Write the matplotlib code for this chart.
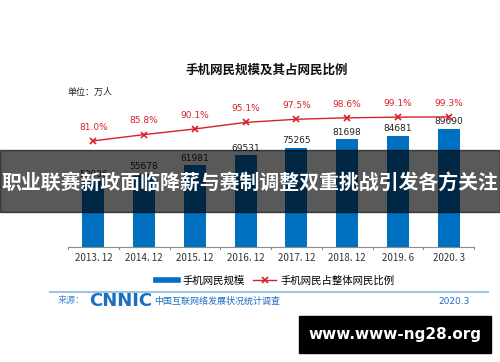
import matplotlib
matplotlib.use('Agg')
import matplotlib.pyplot as plt
from matplotlib.lines import Line2D
from matplotlib.patches import Rectangle

plt.rcParams['font.family'] = ['Noto Sans CJK SC', 'DejaVu Sans']

periods = ['2013. 12', '2014. 12', '2015. 12', '2016. 12', '2017. 12', '2018. 12', '2019. 6', '2020. 3']
users = [50006, 55678, 61981, 69531, 75265, 81698, 84681, 89690]
share = [81.0, 85.8, 90.1, 95.1, 97.5, 98.6, 99.1, 99.3]

blue = '#0070C0'
red = '#D7202A'

fig = plt.figure(figsize=(5, 3.62), dpi=100)
W, H = 500, 362

def fx(px):
    return px / W

def fy(py):
    return 1 - py / H

ax = fig.add_axes([fx(68), fy(247), fx(474) - fx(68), fy(100) - fy(247)])
ax.patch.set_alpha(0)
x = list(range(len(periods)))
ax.bar(x, users, width=0.43, color=blue, zorder=2)
ax.set_xlim(-0.5, 7.5)
ax.set_ylim(0, 111700)
for i, v in enumerate(users):
    ax.text(i, v + 2000, str(v), ha='center', va='bottom', fontsize=6.5, color='#222222',
            family=['DejaVu Sans'])
for s in ['top', 'right', 'left']:
    ax.spines[s].set_visible(False)
ax.spines['bottom'].set_color('#8c8c8c')
ax.set_yticks([])
ax.set_xticks(x)
ax.set_xticklabels(periods, fontsize=7, color='#333333')
ax.tick_params(axis='x', length=0, pad=4)
# small separators on the axis
for b in range(9):
    ax.plot([b - 0.5, b - 0.5], [0, -1600], color='#8c8c8c', lw=0.8, clip_on=False)

ax2 = ax.twinx()
ax2.set_ylim(0, 112.2)
ax2.plot(x, share, color=red, lw=1.0, marker='x', markersize=5, mew=1.2, zorder=3)
for i, v in enumerate(share):
    ax2.text(i, v + 7, '%.1f%%' % v, ha='center', va='bottom', fontsize=6.5, color=red,
             family=['DejaVu Sans'])
ax2.axis('off')

fig.text(fx(267), fy(70), '手机网民规模及其占网民比例', fontsize=9, fontweight='bold',
         ha='center', va='center', color='#111111')
fig.text(fx(67), fy(92), '单位：万人', fontsize=6.5, ha='left', va='center', color='#222222')

# legend
handles = [Line2D([0], [0], color=blue, lw=4),
           Line2D([0], [0], color=red, lw=1.0, marker='x', markersize=4, mew=1.2)]
fig.legend(handles, ['手机网民规模', '手机网民占整体网民比例'], loc='center',
           bbox_to_anchor=(fx(275), fy(281)), ncol=2, frameon=False, fontsize=7.5,
           handlelength=2.2, handletextpad=0.4, columnspacing=0.8)

# footer
fig.add_artist(Line2D([fx(50), fx(488)], [fy(292), fy(292)], color='#9DC3E6', lw=1.5))
fig.text(fx(58), fy(301), '来源：', fontsize=6.5, color='#4a88c8', ha='left', va='center')
fig.text(fx(89), fy(301), 'CNNIC', fontsize=13, fontweight='bold', color='#1a6fc0',
         ha='left', va='center', family=['DejaVu Sans'])
fig.text(fx(154), fy(301), '中国互联网络发展状况统计调查', fontsize=6.5, color='#1a6fc0',
         ha='left', va='center')
fig.text(fx(470), fy(301), '2020.3', fontsize=6.5, color='#1a6fc0', ha='right', va='center',
         family=['DejaVu Sans'])

# overlay banner
fig.add_artist(Rectangle((0, fy(212)), 1, fy(150) - fy(212), transform=fig.transFigure,
                         color='black', alpha=0.65, zorder=10))
fig.text(0.5, fy(182), '职业联赛新政面临降薪与赛制调整双重挑战引发各方关注', fontsize=14.3,
         fontweight='bold', color='white', ha='center', va='center', zorder=11)

# site box
fig.add_artist(Rectangle((fx(299), fy(353)), fx(491) - fx(299), fy(316) - fy(353),
                         transform=fig.transFigure, color='black', zorder=10))
fig.text(fx(395), fy(334.5), 'www.www-ng28.org', fontsize=11, fontweight='bold', color='white',
         ha='center', va='center', zorder=11, family=['DejaVu Sans'])

fig.savefig('out.png', dpi=100)
